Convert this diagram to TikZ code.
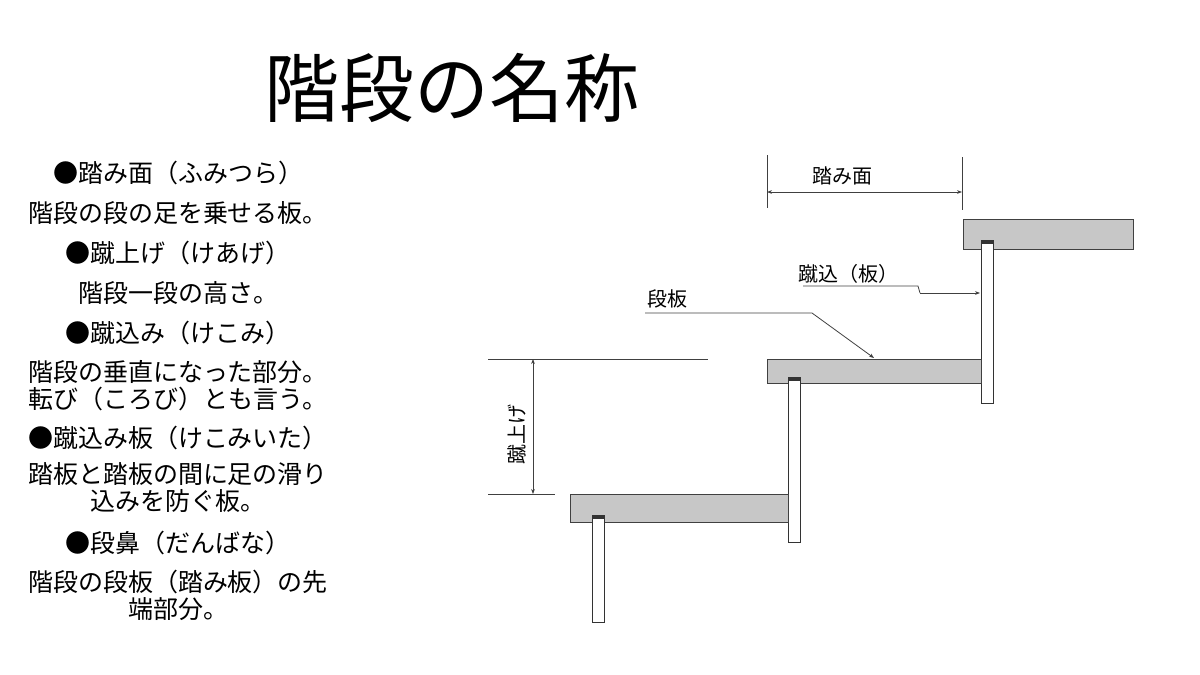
\documentclass[tikz,border=0pt]{standalone}
\usepackage{fontspec}
\setmainfont{Noto Sans CJK JP}
\usetikzlibrary{arrows.meta}
\begin{document}
\begin{tikzpicture}[x=1pt,y=-1pt,
 tread/.style={fill=black!22,draw=black!75,line width=1pt},
 riser/.style={fill=white,draw=black!80,line width=1pt},
 thin/.style={draw=black!75,line width=0.8pt},
 lbl/.style={font=\fontsize{20}{22}\selectfont,inner sep=0pt},
 body/.style={font=\fontsize{25}{26}\selectfont,inner sep=0pt,anchor=center}]
\useasboundingbox (0,0) rectangle (1200,675);
\node[font=\fontsize{75}{76}\selectfont] (title) at (452,88) {階段の名称};
\foreach \t/\y [count=\i] in {●踏み面（ふみつら）/173,階段の段の足を乗せる板。/213,●蹴上げ（けあげ）/253,階段一段の高さ。/293,●蹴込み（けこみ）/333,階段の垂直になった部分。/372,転び（ころび）とも言う。/399,●蹴込み板（けこみいた）/438,踏板と踏板の間に足の滑り/474,込みを防ぐ板。/501,●段鼻（だんばな）/543,階段の段板（踏み板）の先/582,端部分。/609}
  \node[body] (t\i) at (178,\y) {\t};
% treads and risers
\draw[tread] (963,219) rectangle (1133,249);
\draw[riser] (981,240) rectangle (993,403);
\draw[tread] (767,359) rectangle (981,383);
\draw[riser] (788,377) rectangle (800,542);
\draw[tread] (570,494) rectangle (788,522);
\draw[riser] (592,515) rectangle (604,622);
\fill[black!80] (981,240) rectangle (993,244);
\fill[black!80] (788,377) rectangle (800,381);
\fill[black!80] (592,515) rectangle (604,519);
% tread dimension
\coordinate (d1) at (767,155); \coordinate (d1b) at (767,208);
\coordinate (d2) at (962,157); \coordinate (d2b) at (962,210);
\draw[thin] (d1)--(d1b); \draw[thin] (d2)--(d2b);
\coordinate (a1) at (767,192); \coordinate (a2) at (962,192);
\draw[thin,{Stealth[length=5pt]}-{Stealth[length=5pt]}] (a1)--(a2);
\node[lbl] (tm) at (842,176) {踏み面};
% riser label
\node[lbl] (kk) at (848,274) {蹴込（板）};
\coordinate (k1) at (803,286); \coordinate (k2) at (918,286); \coordinate (k3) at (920,293); \coordinate (k4) at (980,293);
\draw[thin] (k1)--(k2)--(k3); \draw[thin,-{Stealth[length=5pt]}] (k3)--(k4);
% 段板
\node[lbl] (db) at (667,299) {段板};
\coordinate (b1) at (645,313); \coordinate (b2) at (812,313); \coordinate (b3) at (874,358);
\draw[thin,-{Stealth[length=5pt]}] (b1)--(b2)--(b3);
% rise
\coordinate (h1) at (488,359); \coordinate (h2) at (708,359);
\coordinate (h3) at (488,494); \coordinate (h4) at (555,494);
\draw[thin] (h1)--(h2); \draw[thin] (h3)--(h4);
\coordinate (v1) at (533,359); \coordinate (v2) at (533,494);
\draw[thin,{Stealth[length=5pt]}-{Stealth[length=5pt]}] (v1)--(v2);
\node[lbl,rotate=90] (ka) at (517,434) {蹴上げ};
\end{tikzpicture}
\end{document}
